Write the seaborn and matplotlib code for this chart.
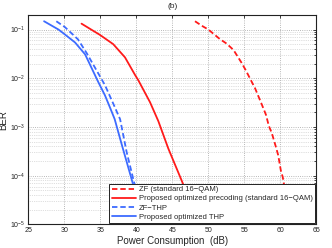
import numpy as np
import pandas as pd
import seaborn as sns
import matplotlib
matplotlib.use("Agg")
import matplotlib.pyplot as plt
from matplotlib.ticker import LogLocator, NullFormatter

sns.set_style("white")
plt.rcParams['font.family'] = ['Liberation Sans', 'DejaVu Sans']

# Data (x in dB, BER)
zf_x = [48.15, 49.08, 50.0, 51.6, 52.55, 53.5, 54.56, 55.1, 55.56, 56.5, 57.4,
        58.0, 58.4, 58.8, 59.36, 59.7, 60.06, 60.33, 61.5]
zf_y = [0.148, 0.120, 0.1, 0.0638, 0.0513, 0.038, 0.0214, 0.0155, 0.01148, 0.00617,
        0.00295, 0.00178, 0.00105, 0.000759, 0.000398, 0.000263, 0.000129, 0.0000933, 0.00001]

prop_x = [32.4, 34.96, 36.8, 38.43, 39.82, 40.28, 41.9, 43.06, 44.44, 46.3, 48.8]
prop_y = [0.132, 0.0776, 0.0501, 0.0269, 0.01175, 0.00912, 0.00324, 0.00132,
          0.000363, 0.0000794, 0.00001]

zfthp_x = [28.9, 30.1, 31.9, 33.1, 34.3, 35.65, 36.8, 37.75, 38.67, 39.6, 41.2]
zfthp_y = [0.148, 0.112, 0.0631, 0.0331, 0.0162, 0.00724, 0.00302, 0.00145,
           0.000302, 0.0000832, 0.00001]

pthp_x = [27.2, 29.2, 30.0, 31.5, 32.9, 33.8, 34.7, 35.65, 36.35, 37.0, 38.0, 39.35, 41.1]
pthp_y = [0.148, 0.1, 0.0813, 0.0543, 0.0309, 0.0162, 0.00851, 0.00447, 0.00251,
          0.00145, 0.000427, 0.0000851, 0.00001]

labels = ["ZF (standard 16\u2212QAM)",
          "Proposed optimized precoding (standard 16\u2212QAM)",
          "ZF\u2212THP",
          "Proposed optimized THP"]

fig = plt.figure(figsize=(3.32, 2.48), dpi=100)
ax = fig.add_axes([0.085, 0.095, 0.868, 0.845])

series = [(zf_x, zf_y, labels[0], "#ff1a1a", (0, (3, 1.6))),
          (prop_x, prop_y, labels[1], "#ff1a1a", "-"),
          (zfthp_x, zfthp_y, labels[2], "#3d6bff", (0, (3, 1.6))),
          (pthp_x, pthp_y, labels[3], "#3d6bff", "-")]

for xs, ys, lab, col, ls in series:
    df = pd.DataFrame({"x": xs, "y": ys})
    sns.lineplot(data=df, x="x", y="y", ax=ax, color=col, linestyle=ls,
                 linewidth=1.3, label=lab, sort=False)

ax.set_yscale("log")
ax.set_xlim(25, 65)
ax.set_ylim(1e-5, 0.2)
ax.set_xticks(np.arange(25, 66, 5))
ax.yaxis.set_major_locator(LogLocator(base=10, numticks=10))
ax.yaxis.set_minor_locator(LogLocator(base=10, subs=np.arange(2, 10), numticks=10))
ax.yaxis.set_minor_formatter(NullFormatter())

ax.grid(True, which="major", axis="both", linestyle=":", color="#a0a0a0", linewidth=0.6)
ax.grid(True, which="minor", axis="y", linestyle=":", color="#c0c0c0", linewidth=0.5)

ax.tick_params(axis="both", which="both", direction="in", top=True, right=True,
               labelsize=5, length=2.5, width=0.6, colors="#222222", pad=2)
ax.tick_params(axis="both", which="minor", length=1.5)
for s in ax.spines.values():
    s.set_linewidth(0.8)
    s.set_color("#222222")

ax.set_xlabel("Power Consumption  (dB)", fontsize=7, labelpad=1)
ax.set_ylabel("BER", fontsize=7)
ax.yaxis.set_label_coords(-0.068, 0.5)
ax.set_title("(b)", fontsize=6, pad=5)

leg = ax.legend(loc="lower right", fontsize=5.5, frameon=True, fancybox=False,
                handlelength=3.2, handletextpad=0.4, borderpad=0.3,
                labelspacing=0.25, borderaxespad=0.15)
leg.get_frame().set_edgecolor("#222222")
leg.get_frame().set_linewidth(0.7)
leg.get_frame().set_facecolor("white")
leg.get_frame().set_alpha(1.0)

fig.savefig("out.png", dpi=100)
